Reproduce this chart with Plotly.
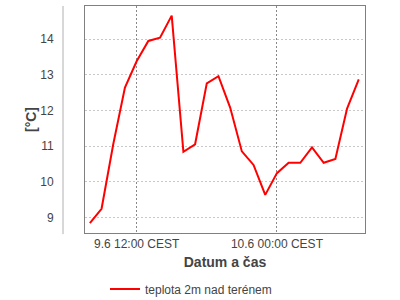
import plotly.graph_objects as go

times = ["2024-06-09 08:00", "2024-06-09 09:00", "2024-06-09 10:00", "2024-06-09 11:00",
         "2024-06-09 12:00", "2024-06-09 13:00", "2024-06-09 14:00", "2024-06-09 15:00",
         "2024-06-09 16:00", "2024-06-09 17:00", "2024-06-09 18:00", "2024-06-09 19:00",
         "2024-06-09 20:00", "2024-06-09 21:00", "2024-06-09 22:00", "2024-06-09 23:00",
         "2024-06-10 00:00", "2024-06-10 01:00", "2024-06-10 02:00", "2024-06-10 03:00",
         "2024-06-10 04:00", "2024-06-10 05:00", "2024-06-10 06:00", "2024-06-10 07:00"]
temps = [8.84, 9.24, 11.05, 12.64, 13.38, 13.95, 14.04, 14.66,
         10.84, 11.05, 12.76, 12.96, 12.08, 10.85, 10.47, 9.63,
         10.24, 10.53, 10.53, 10.96, 10.53, 10.64, 12.05, 12.87]

x_tickvals = ["2024-06-09 12:00", "2024-06-10 00:00"]
x_ticktext = ["9.6 12:00 CEST", "10.6 00:00 CEST"]
y_tickvals = [9, 10, 11, 12, 13, 14]

FONT = "Liberation Sans, Arial, sans-serif"
TXT = "#444444"

fig = go.Figure()
fig.add_trace(go.Scatter(x=times, y=temps, mode="lines", name="teplota 2m nad terénem",
                         line=dict(color="#ff0000", width=2)))

fig.update_layout(
    width=400, height=300,
    margin=dict(l=85, r=35, t=6, b=67, autoexpand=False),
    paper_bgcolor="white", plot_bgcolor="white",
    font=dict(family=FONT, size=12, color=TXT),
    showlegend=True,
    legend=dict(orientation="h", x=(191 - 85) / 280, xanchor="center",
                y=-(289 - 233) / 227, yanchor="middle",
                font=dict(size=12, color=TXT, family=FONT), bgcolor="rgba(0,0,0,0)"),
    xaxis=dict(
        type="date",
        range=["2024-06-09 07:35", "2024-06-10 07:32"],
        tickvals=x_tickvals, ticktext=x_ticktext,
        showgrid=True, gridcolor="#888888", griddash="2px,2px", gridwidth=1,
        showline=True, mirror=True, linecolor="#808080", linewidth=1,
        ticks="", zeroline=False,
        tickfont=dict(size=12, color=TXT),
        title=dict(text="<b>Datum a čas</b>", font=dict(size=14, color=TXT), standoff=6),
    ),
    yaxis=dict(
        range=[8.56, 14.93],
        tickvals=y_tickvals,
        showgrid=True, gridcolor="#c8c8c8", griddash="2px,2px", gridwidth=1,
        showline=True, mirror=True, linecolor="#808080", linewidth=1,
        ticks="", zeroline=False, ticklabelstandoff=28,
        tickfont=dict(size=12, color=TXT),
        title=dict(text="<b>[°C]</b>", font=dict(size=14, color=TXT), standoff=0),
    ),
)

fig.add_shape(type="line", xref="paper", yref="paper",
              x0=(63 - 85) / 280, x1=(63 - 85) / 280, y0=-0.005, y1=1,
              line=dict(color="#b0b0b0", width=1))

fig.write_html("out.html")
